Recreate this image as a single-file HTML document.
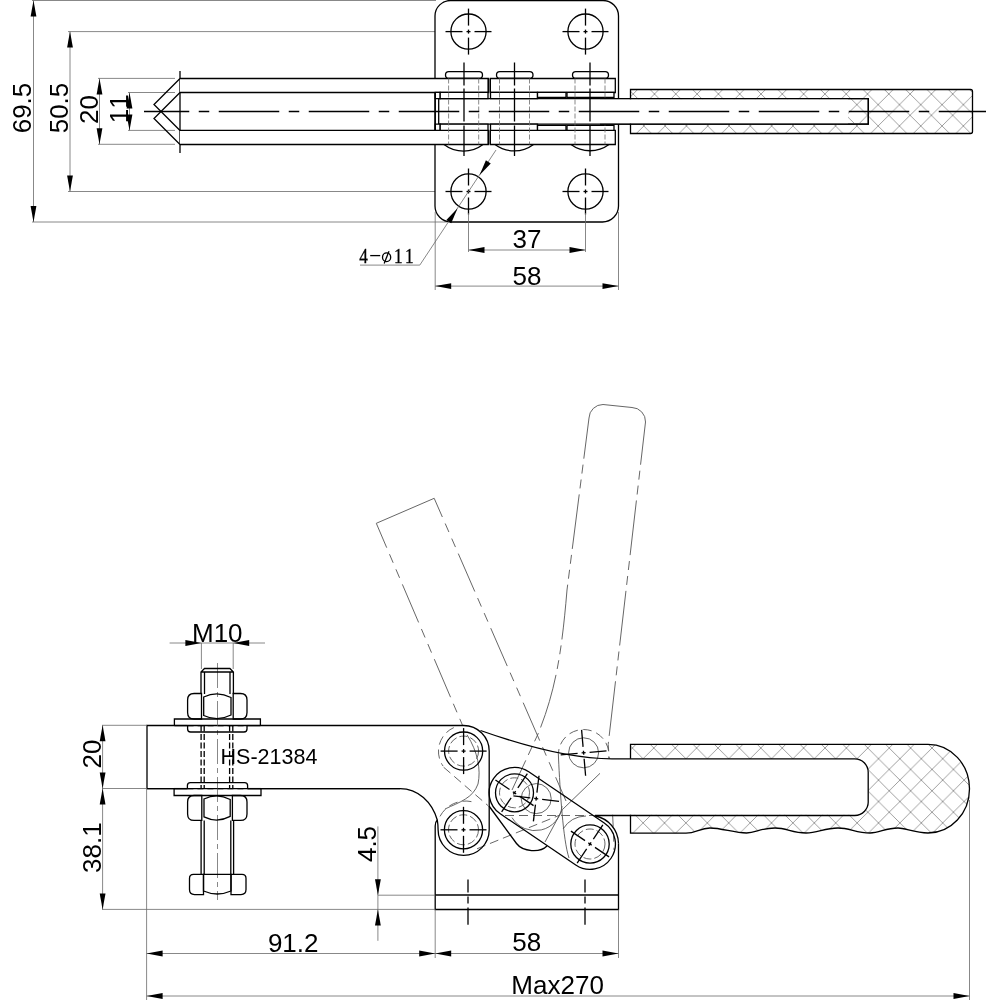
<!DOCTYPE html>
<html><head><meta charset="utf-8"><style>
html,body{margin:0;padding:0;background:#fff;width:1000px;height:1000px;overflow:hidden}
svg{display:block;will-change:transform}
.k{stroke:#000;stroke-width:1.3;fill:none}
.w{fill:#fff}
.t{stroke:#6a6a6a;stroke-width:0.8;fill:none}
.cl{stroke:#000;stroke-width:1.3;fill:none}
.ph{stroke:#555;stroke-width:0.9;fill:none}
.ar{fill:#000;stroke:none}
text{fill:#000;font-kerning:none}
</style></head><body>
<svg width="1000" height="1000" viewBox="0 0 1000 1000">
<line x1="32" y1="0.5" x2="436" y2="0.5" class="t"/>
<line x1="32" y1="222" x2="447" y2="222" class="t"/>
<line x1="33.5" y1="0.5" x2="33.5" y2="222" class="t"/>
<path d="M33.5 0.5L36.4 16.5L30.6 16.5Z" class="ar"/>
<path d="M33.5 222L30.6 206L36.4 206Z" class="ar"/>
<text x="31" y="108" font-size="26" text-anchor="middle" font-family="Liberation Sans" transform="rotate(-90 31 108)">69.5</text>
<line x1="68" y1="31.6" x2="446" y2="31.6" class="t"/>
<line x1="68" y1="191.5" x2="446" y2="191.5" class="t"/>
<line x1="70" y1="31.6" x2="70" y2="191.5" class="t"/>
<path d="M70 31.6L72.9 47.6L67.1 47.6Z" class="ar"/>
<path d="M70 191.5L67.1 175.5L72.9 175.5Z" class="ar"/>
<text x="68" y="108" font-size="26" text-anchor="middle" font-family="Liberation Sans" transform="rotate(-90 68 108)">50.5</text>
<line x1="98" y1="78.4" x2="175" y2="78.4" class="t"/>
<line x1="98" y1="144.3" x2="175" y2="144.3" class="t"/>
<line x1="99.5" y1="78.4" x2="99.5" y2="144.3" class="t"/>
<path d="M99.5 78.4L102.4 94.4L96.6 94.4Z" class="ar"/>
<path d="M99.5 144.3L96.6 128.3L102.4 128.3Z" class="ar"/>
<text x="97.5" y="109.5" font-size="26" text-anchor="middle" font-family="Liberation Sans" transform="rotate(-90 97.5 109.5)">20</text>
<line x1="128" y1="92.5" x2="175" y2="92.5" class="t"/>
<line x1="128" y1="130.4" x2="175" y2="130.4" class="t"/>
<line x1="129.5" y1="92.5" x2="129.5" y2="130.4" class="t"/>
<path d="M129.5 92.5L132.4 108.5L126.6 108.5Z" class="ar"/>
<path d="M129.5 130.4L126.6 114.4L132.4 114.4Z" class="ar"/>
<text x="128" y="108.8" font-size="26" text-anchor="middle" font-family="Liberation Sans" transform="rotate(-90 128 108.8)">11</text>
<line x1="180" y1="71" x2="180" y2="153" class="k"/>
<path d="M180 78.5L154 104.5L180 130.5M180 92.5L154 118.5L180 144.5" class="k"/>
<path d="M451 0.5H603A15.5 15.5 0 0 1 618.5 16V206A16 16 0 0 1 602.5 222H451A16 16 0 0 1 435 206V16A15.5 15.5 0 0 1 451 0.5Z" class="k w"/>
<circle cx="468.5" cy="31.6" r="17.6" class="k"/>
<line x1="474.5" y1="31.6" x2="491.5" y2="31.6" class="k"/>
<line x1="462.5" y1="31.6" x2="445.5" y2="31.6" class="k"/>
<line x1="466.5" y1="31.6" x2="470.5" y2="31.6" class="k"/>
<line x1="468.5" y1="37.6" x2="468.5" y2="54.6" class="k"/>
<line x1="468.5" y1="25.6" x2="468.5" y2="8.6" class="k"/>
<line x1="468.5" y1="29.6" x2="468.5" y2="33.6" class="k"/>
<circle cx="585.5" cy="31.6" r="17.6" class="k"/>
<line x1="591.5" y1="31.6" x2="608.5" y2="31.6" class="k"/>
<line x1="579.5" y1="31.6" x2="562.5" y2="31.6" class="k"/>
<line x1="583.5" y1="31.6" x2="587.5" y2="31.6" class="k"/>
<line x1="585.5" y1="37.6" x2="585.5" y2="54.6" class="k"/>
<line x1="585.5" y1="25.6" x2="585.5" y2="8.6" class="k"/>
<line x1="585.5" y1="29.6" x2="585.5" y2="33.6" class="k"/>
<circle cx="468.5" cy="191.5" r="17.6" class="k"/>
<line x1="474.5" y1="191.5" x2="491.5" y2="191.5" class="k"/>
<line x1="462.5" y1="191.5" x2="445.5" y2="191.5" class="k"/>
<line x1="466.5" y1="191.5" x2="470.5" y2="191.5" class="k"/>
<line x1="468.5" y1="197.5" x2="468.5" y2="214.5" class="k"/>
<line x1="468.5" y1="185.5" x2="468.5" y2="168.5" class="k"/>
<line x1="468.5" y1="189.5" x2="468.5" y2="193.5" class="k"/>
<circle cx="585.5" cy="191.5" r="17.6" class="k"/>
<line x1="591.5" y1="191.5" x2="608.5" y2="191.5" class="k"/>
<line x1="579.5" y1="191.5" x2="562.5" y2="191.5" class="k"/>
<line x1="583.5" y1="191.5" x2="587.5" y2="191.5" class="k"/>
<line x1="585.5" y1="197.5" x2="585.5" y2="214.5" class="k"/>
<line x1="585.5" y1="185.5" x2="585.5" y2="168.5" class="k"/>
<line x1="585.5" y1="189.5" x2="585.5" y2="193.5" class="k"/>
<path d="M180 78.5H488.3V92.5H180" class="k w"/>
<path d="M490.3 78.5H615.3V92.5H490.3Z" class="k w"/>
<line x1="488.3" y1="78.5" x2="488.3" y2="92.5" class="k"/>
<line x1="490.3" y1="78.5" x2="490.3" y2="92.5" class="k"/>
<path d="M180 130.4H488.3V144.5H180" class="k w"/>
<path d="M490.3 130.4H615.3V144.5H490.3Z" class="k w"/>
<line x1="488.3" y1="130.4" x2="488.3" y2="144.5" class="k"/>
<line x1="490.3" y1="130.4" x2="490.3" y2="144.5" class="k"/>
<rect x="445.5" y="71.6" width="37" height="6.6" rx="3.3" class="k w"/>
<path d="M444.0 144.5A32 32 0 0 0 483.0 144.5" class="k"/>
<rect x="496.5" y="71.6" width="36.5" height="6.6" rx="3.3" class="k w"/>
<path d="M495.0 144.5A32 32 0 0 0 533.5 144.5" class="k"/>
<rect x="572.5" y="71.6" width="36" height="6.6" rx="3.3" class="k w"/>
<path d="M571.0 144.5A32 32 0 0 0 609.0 144.5" class="k"/>
<path d="M438.7 98.6H868.3V124.2H438.7Z" class="k w"/>
<path d="M435.25 92.4H440.2V98.6H435.25Z" class="k w"/>
<path d="M435.25 124.2H440.2V130.3H435.25Z" class="k w"/>
<line x1="435.25" y1="92.4" x2="435.25" y2="130.3" class="k"/>
<path d="M440.2 92.4H488V98.6H440.2Z" class="k w"/>
<path d="M440.2 124.2H488V130.3H440.2Z" class="k w"/>
<path d="M490.5 92.4H537.5V98.6H490.5Z" class="k w"/>
<path d="M490.5 124.2H537.5V130.3H490.5Z" class="k w"/>
<path d="M537.5 92.4H566V97.5H537.5Z" class="k w"/>
<path d="M537.5 125.3H566V130.3H537.5Z" class="k w"/>
<path d="M567 92.4H614V97.5H567Z" class="k w"/>
<path d="M567 125.3H614V130.3H567Z" class="k w"/>
<line x1="464" y1="62.5" x2="464" y2="156" class="k" stroke-dasharray="23 3 33 4 40"/>
<line x1="514.5" y1="62.5" x2="514.5" y2="156" class="k" stroke-dasharray="23 3 33 4 40"/>
<line x1="590" y1="62.5" x2="590" y2="156" class="k" stroke-dasharray="23 3 33 4 40"/>
<line x1="448.6" y1="78.5" x2="448.6" y2="144.5" class="t" stroke-dasharray="5 2"/>
<line x1="478.7" y1="78.5" x2="478.7" y2="144.5" class="t" stroke-dasharray="5 2"/>
<line x1="499.5" y1="78.5" x2="499.5" y2="144.5" class="t" stroke-dasharray="5 2"/>
<line x1="529.5" y1="78.5" x2="529.5" y2="144.5" class="t" stroke-dasharray="5 2"/>
<line x1="575" y1="78.5" x2="575" y2="144.5" class="t" stroke-dasharray="5 2"/>
<line x1="605" y1="78.5" x2="605" y2="144.5" class="t" stroke-dasharray="5 2"/>
<defs><pattern id="h1" patternUnits="userSpaceOnUse" width="21.3" height="21.3" x="867.5" y="94"><path d="M0 0L21.3 21.3M21.3 0L0 21.3M-1 20.3L1 22.3M20.3 -1L22.3 1" stroke="#777" stroke-width="0.7"/></pattern><pattern id="h2" patternUnits="userSpaceOnUse" width="21.4" height="21.4" x="653.8" y="748"><path d="M0 0L21.4 21.4M21.4 0L0 21.4" stroke="#777" stroke-width="0.7"/></pattern></defs>
<path d="M630.5 89.5H970.5A2 2 0 0 1 972.5 91.5V131.5A2 2 0 0 1 970.5 133.5H630.5Z" class="k"  style="fill:url(#h1)"/>
<rect x="600" y="99.3" width="248" height="24.2" fill="#fff"/>
<path d="M600 98.6H868.3V124.2H600" class="k"/>
<line x1="144" y1="111.5" x2="986" y2="111.5" class="cl" stroke-dasharray="60.5 9.5 10.5 9.5" stroke-dashoffset="15.25"/>
<line x1="468.5" y1="213" x2="468.5" y2="252" class="t"/>
<line x1="585.5" y1="213" x2="585.5" y2="252" class="t"/>
<line x1="468.5" y1="250" x2="585.5" y2="250" class="t"/>
<path d="M468.5 250L484.5 247.1L484.5 252.9Z" class="ar"/>
<path d="M585.5 250L569.5 252.9L569.5 247.1Z" class="ar"/>
<text x="527" y="248" font-size="26" text-anchor="middle" font-family="Liberation Sans">37</text>
<line x1="435.2" y1="212" x2="435.2" y2="290" class="t"/>
<line x1="618.5" y1="212" x2="618.5" y2="290" class="t"/>
<line x1="435.2" y1="286.1" x2="618.5" y2="286.1" class="t"/>
<path d="M435.2 286.1L451.2 283.2L451.2 289Z" class="ar"/>
<path d="M618.5 286.1L602.5 289L602.5 283.2Z" class="ar"/>
<text x="527" y="284.5" font-size="26" text-anchor="middle" font-family="Liberation Sans">58</text>
<line x1="496" y1="150" x2="419.8" y2="265.1" class="t"/>
<line x1="360" y1="265.1" x2="419.8" y2="265.1" class="t"/>
<path d="M479.5 175.2L485.91 160.26L490.75 163.46Z" class="ar"/>
<path d="M457.6 208.3L451.19 223.24L446.35 220.04Z" class="ar"/>
<g transform="translate(360 262.7) scale(0.8 1)" font-family="Liberation Serif" font-size="21.5" stroke="#000" stroke-width="0.35"><text x="-0.8" y="0">4</text><text x="42.5" y="0">1</text><text x="56.3" y="0">1</text></g>
<line x1="370.2" y1="255.6" x2="380.2" y2="255.6" class="k" stroke-width="1.2"/>
<ellipse cx="386.6" cy="257.3" rx="4.1" ry="4.4" class="k" stroke-width="1.25"/>
<line x1="389" y1="251.2" x2="384.2" y2="263.4" class="k" stroke-width="1.1"/>
<path d="M376.3 523.3L462.4 725" class="ph" stroke-dasharray="41.4 7.1 9.3 7.1 9.3 7.1" stroke-dashoffset="14.9"/>
<path d="M376.3 523.3L434.2 498.3" class="ph"/>
<path d="M434.2 498.3L566 801" class="ph" stroke-dasharray="41.4 7.1 9.3 7.1 9.3 7.1" stroke-dashoffset="21"/>
<path d="M589 418A14 14 0 0 1 603 404.5L632 407.5A14 14 0 0 1 645.5 422" class="ph"/>
<path d="M589 418L567 590C562 650 556 690 538 734L512 790" class="ph" stroke-dasharray="55 6 9 6 9 6" stroke-dashoffset="14"/>
<path d="M645.5 422L608.2 744.4C611 780 613 815 614 850" class="ph" stroke-dasharray="55 6 9 6 9 6" stroke-dashoffset="12"/>
<circle cx="583.6" cy="752.8" r="15" class="ph"/>
<path d="M558.5 758A25.3 25.3 0 1 1 608.7 758" class="ph" stroke-dasharray="9 5"/>
<path d="M558.5 758C560 790 563 840 569 858" class="ph"/>
<circle cx="536.2" cy="798.6" r="15" class="ph"/>
<path d="M512 817.6A27 27 0 0 0 562 806" class="ph"/>
<path d="M453.8 727.6A26 26 0 0 0 443 766" class="ph" stroke-dasharray="9 5"/>
<path d="M443.6 767.2L488 805.6" class="ph" stroke-dasharray="9 5"/>
<path d="M467 734.8C478 752 481 770 478 784C473 798 460 802 445 809" class="ph"/>
<path d="M440 816.4A29 29 0 0 1 473 802" class="ph" stroke-dasharray="9 5"/>
<path d="M607.2 766.4L562.4 809.6L545 842" class="ph"/>
<path d="M563 829A28 28 0 0 1 586 816" class="ph"/>
<path d="M505 815.5H595" class="ph" stroke-dasharray="9 5"/>
<path d="M477 848.8L560 815" class="ph" stroke-dasharray="9 5"/>
<circle cx="463.6" cy="751.1" r="15" class="ph" stroke-dasharray="8 3"/>
<circle cx="463.5" cy="829.8" r="15" class="ph" stroke-dasharray="8 3"/>
<circle cx="590" cy="844" r="15" class="ph" stroke-dasharray="8 3"/>
<circle cx="514.5" cy="792.8" r="15" class="ph" stroke-dasharray="8 3"/>
<path d="M630.5 744.4H928A41.5 44.3 0 0 1 928 833C915 833 905 828 898 828C885 828 880 833 870 833C856 833 850 828 838 828C824 828 818 833 806 833C792 833 787 828 775 828C760 828 756 833 746.5 833C734 833 722 828 710 828C700 828 696 833.2 686 833.2H630.5Z" class="k" style="fill:url(#h2)"/>
<path d="M600 758.8H854.7A13.5 13.5 0 0 1 868.2 772.3V801.2A13.5 13.5 0 0 1 854.7 814.7H600Z" fill="#fff"/>
<path d="M612 758.8H854.7A13.5 13.5 0 0 1 868.2 772.3V801.2A13.5 13.5 0 0 1 854.7 815.5H595" class="k"/>
<path d="M480.5 730.5C530 748 575 758.8 612 758.8" class="k"/>
<path d="M435.2 826V909.5H618.5V843.2" class="k"/>
<path d="M435.2 895H618.5" class="k"/>
<path d="M595.2 816A28.5 28.5 0 0 1 618.5 843.2" class="k"/>
<line x1="468" y1="879.6" x2="468" y2="924.7" class="k" stroke-dasharray="13 4 7 4 20"/>
<line x1="585" y1="879.6" x2="585" y2="924.7" class="k" stroke-dasharray="13 4 7 4 20"/>
<path d="M528.75 771.77L604.25 822.97A25.4 25.4 0 0 1 575.75 865.03L500.25 813.83A25.4 25.4 0 0 1 528.75 771.77Z" class="k"/>
<path d="M489 806L516.5 843.5C523 852 540 853 547 846" class="k"/>
<path d="M147 725.5H463.6A25.6 25.6 0 0 1 489.2 751.1V829.8A25.5 25.5 0 0 1 438.1 829.8Q438.1 825 437.3 820C432 802 418 788.6 400 788.6H147Z" class="k"/>
<path d="M437.3 820Q435.2 822 435.2 826" class="k"/>
<circle cx="463.6" cy="751.1" r="19.1" class="k"/>
<line x1="469.6" y1="751.1" x2="486.6" y2="751.1" class="k"/>
<line x1="457.6" y1="751.1" x2="440.6" y2="751.1" class="k"/>
<line x1="461.6" y1="751.1" x2="465.6" y2="751.1" class="k"/>
<line x1="463.6" y1="757.1" x2="463.6" y2="774.1" class="k"/>
<line x1="463.6" y1="745.1" x2="463.6" y2="728.1" class="k"/>
<line x1="463.6" y1="749.1" x2="463.6" y2="753.1" class="k"/>
<circle cx="463.5" cy="829.8" r="19.1" class="k"/>
<line x1="469.5" y1="829.8" x2="486.5" y2="829.8" class="k"/>
<line x1="457.5" y1="829.8" x2="440.5" y2="829.8" class="k"/>
<line x1="461.5" y1="829.8" x2="465.5" y2="829.8" class="k"/>
<line x1="463.5" y1="835.8" x2="463.5" y2="852.8" class="k"/>
<line x1="463.5" y1="823.8" x2="463.5" y2="806.8" class="k"/>
<line x1="463.5" y1="827.8" x2="463.5" y2="831.8" class="k"/>
<circle cx="514.5" cy="792.8" r="19" class="k"/>
<line x1="519.47" y1="796.16" x2="533.57" y2="805.66" class="k"/>
<line x1="509.53" y1="789.44" x2="495.43" y2="779.94" class="k"/>
<line x1="512.84" y1="791.68" x2="516.16" y2="793.92" class="k"/>
<line x1="511.14" y1="797.77" x2="501.64" y2="811.87" class="k"/>
<line x1="517.86" y1="787.83" x2="527.36" y2="773.73" class="k"/>
<line x1="515.62" y1="791.14" x2="513.38" y2="794.46" class="k"/>
<circle cx="590" cy="844" r="19.2" class="k"/>
<line x1="594.97" y1="847.36" x2="609.07" y2="856.86" class="k"/>
<line x1="585.03" y1="840.64" x2="570.93" y2="831.14" class="k"/>
<line x1="588.34" y1="842.88" x2="591.66" y2="845.12" class="k"/>
<line x1="586.64" y1="848.97" x2="577.14" y2="863.07" class="k"/>
<line x1="593.36" y1="839.03" x2="602.86" y2="824.93" class="k"/>
<line x1="591.12" y1="842.34" x2="588.88" y2="845.66" class="k"/>
<line x1="589.58" y1="752.28" x2="606.51" y2="750.8" class="k"/>
<line x1="577.62" y1="753.32" x2="560.69" y2="754.8" class="k"/>
<line x1="581.61" y1="752.97" x2="585.59" y2="752.63" class="k"/>
<line x1="584.12" y1="758.78" x2="585.6" y2="775.71" class="k"/>
<line x1="583.08" y1="746.82" x2="581.6" y2="729.89" class="k"/>
<line x1="583.43" y1="750.81" x2="583.77" y2="754.79" class="k"/>
<line x1="542.16" y1="799.33" x2="559.03" y2="801.4" class="k"/>
<line x1="530.24" y1="797.87" x2="513.37" y2="795.8" class="k"/>
<line x1="534.21" y1="798.36" x2="538.19" y2="798.84" class="k"/>
<line x1="535.47" y1="804.56" x2="533.4" y2="821.43" class="k"/>
<line x1="536.93" y1="792.64" x2="539" y2="775.77" class="k"/>
<line x1="536.44" y1="796.61" x2="535.96" y2="800.59" class="k"/>
<line x1="217.5" y1="663" x2="217.5" y2="900" class="t" stroke-dasharray="25 4 5 4"/>
<path d="M201 694V672L204.5 668.5H229.9L233.4 672V694M201 672H233.4" class="k"/>
<line x1="204.5" y1="672" x2="204.5" y2="694" class="k" stroke-width="1.2"/>
<line x1="230" y1="672" x2="230" y2="694" class="k" stroke-width="1.2"/>
<path d="M201.5 693.5H194.1Q187.6 693.5 187.6 700.0V712.5Q187.6 719 194.1 719H201.5Z" class="k"/>
<path d="M233.2 693.5H240.5Q247 693.5 247 700.0V712.5Q247 719 240.5 719H233.2Z" class="k"/>
<path d="M203.7 697.0Q217.35 690.5 231.0 697.5V715Q217.35 722 203.7 715.5Z" class="k"/>
<path d="M174.4 725.6V719H260.4V725.6" class="k"/>
<line x1="174.4" y1="725.6" x2="187.6" y2="725.6" class="k"/>
<line x1="247" y1="725.6" x2="260.4" y2="725.6" class="k"/>
<line x1="187.6" y1="725.6" x2="247" y2="725.6" class="k" stroke-dasharray="6 4"/>
<path d="M187.6 725.6V729Q187.6 732 190.6 732H244Q247 732 247 729V725.6" class="k"/>
<line x1="201.1" y1="725.6" x2="201.1" y2="788.6" class="k" stroke-width="1.1" stroke-dasharray="6 2.5"/>
<line x1="204.2" y1="725.6" x2="204.2" y2="788.6" class="k" stroke-width="1.1" stroke-dasharray="6 2.5"/>
<line x1="229.6" y1="725.6" x2="229.6" y2="788.6" class="k" stroke-width="1.1" stroke-dasharray="6 2.5"/>
<line x1="232.8" y1="725.6" x2="232.8" y2="788.6" class="k" stroke-width="1.1" stroke-dasharray="6 2.5"/>
<path d="M187.4 788.6V785.6Q187.4 782.6 190.4 782.6H244.6Q247.6 782.6 247.6 785.6V788.6" class="k"/>
<line x1="187.4" y1="788.6" x2="247.6" y2="788.6" class="k" stroke-dasharray="6 4"/>
<line x1="147" y1="788.6" x2="187.4" y2="788.6" class="k"/>
<line x1="247.6" y1="788.6" x2="400" y2="788.6" class="k"/>
<path d="M174.1 788.6V795.5H261V788.6" class="k"/>
<line x1="174.1" y1="788.6" x2="187.4" y2="788.6" class="k"/>
<line x1="247.6" y1="788.6" x2="261" y2="788.6" class="k"/>
<path d="M201.8 795.5H194.1Q187.6 795.5 187.6 802.0V813.9Q187.6 820.4 194.1 820.4H201.8Z" class="k"/>
<path d="M232.4 795.5H240.5Q247 795.5 247 802.0V813.9Q247 820.4 240.5 820.4H232.4Z" class="k"/>
<path d="M204.0 799.0Q217.1 792.5 230.20000000000002 799.5V816.4Q217.1 823.4 204.0 816.9Z" class="k"/>
<line x1="201.1" y1="820.4" x2="201.1" y2="874.3" class="k" stroke-width="1.1"/>
<line x1="204.2" y1="820.4" x2="204.2" y2="874.3" class="k" stroke-width="1.1"/>
<line x1="230.8" y1="820.4" x2="230.8" y2="874.3" class="k" stroke-width="1.1"/>
<line x1="233.6" y1="820.4" x2="233.6" y2="874.3" class="k" stroke-width="1.1"/>
<path d="M203.5 874.3H193.5Q189.5 874.3 189.5 878.3V889.6Q189.5 894.6 194.5 894.6H203.5Z" class="k"/>
<path d="M231 874.3H242Q246 874.3 246 878.3V889.6Q246 894.6 241 894.6H231Z" class="k"/>
<path d="M203.5 874.3H231V891Q217.3 897 203.5 891Z" class="k"/>
<text x="269" y="764.4" font-size="21.5" text-anchor="middle" font-family="Liberation Sans">HS-21384</text>
<line x1="169.6" y1="643" x2="265" y2="643" class="t"/>
<path d="M201.4 643L185.4 645.9L185.4 640.1Z" class="ar"/>
<path d="M233.2 643L249.2 640.1L249.2 645.9Z" class="ar"/>
<line x1="201.4" y1="643" x2="201.4" y2="669" class="t"/>
<line x1="233.2" y1="643" x2="233.2" y2="669" class="t"/>
<text x="217.3" y="641.5" font-size="26" text-anchor="middle" font-family="Liberation Sans">M10</text>
<line x1="102" y1="725.3" x2="147" y2="725.3" class="t"/>
<line x1="102" y1="788.5" x2="147" y2="788.5" class="t"/>
<line x1="102" y1="909.4" x2="435.2" y2="909.4" class="t"/>
<line x1="102.6" y1="725.3" x2="102.6" y2="909.4" class="t"/>
<path d="M102.6 725.3L105.5 741.3L99.7 741.3Z" class="ar"/>
<path d="M102.6 788.5L99.7 772.5L105.5 772.5Z" class="ar"/>
<path d="M102.6 788.5L105.5 804.5L99.7 804.5Z" class="ar"/>
<path d="M102.6 909.4L99.7 893.4L105.5 893.4Z" class="ar"/>
<text x="101" y="754" font-size="26" text-anchor="middle" font-family="Liberation Sans" transform="rotate(-90 101 754)">20</text>
<text x="101" y="847.6" font-size="26" text-anchor="middle" font-family="Liberation Sans" transform="rotate(-90 101 847.6)">38.1</text>
<line x1="377.9" y1="826.4" x2="377.9" y2="940.8" class="t"/>
<path d="M377.9 895.2L375 879.2L380.8 879.2Z" class="ar"/>
<path d="M377.9 909.6L380.8 925.6L375 925.6Z" class="ar"/>
<line x1="377.9" y1="895.2" x2="435.2" y2="895.2" class="t"/>
<text x="376" y="844" font-size="26" text-anchor="middle" font-family="Liberation Sans" transform="rotate(-90 376 844)">4.5</text>
<line x1="146.6" y1="789" x2="146.6" y2="1000" class="t"/>
<line x1="435.2" y1="909.6" x2="435.2" y2="958" class="t"/>
<line x1="618.5" y1="909.6" x2="618.5" y2="958" class="t"/>
<line x1="969.5" y1="800" x2="969.5" y2="1000" class="t"/>
<line x1="146.6" y1="953.5" x2="618.5" y2="953.5" class="t"/>
<path d="M146.6 953.5L162.6 950.6L162.6 956.4Z" class="ar"/>
<path d="M435.2 953.5L419.2 956.4L419.2 950.6Z" class="ar"/>
<path d="M435.2 953.5L451.2 950.6L451.2 956.4Z" class="ar"/>
<path d="M618.5 953.5L602.5 956.4L602.5 950.6Z" class="ar"/>
<text x="293.2" y="951.8" font-size="26" text-anchor="middle" font-family="Liberation Sans">91.2</text>
<text x="526.7" y="951.3" font-size="26" text-anchor="middle" font-family="Liberation Sans">58</text>
<line x1="146.6" y1="996" x2="969.5" y2="996" class="t"/>
<path d="M146.6 996L162.6 993.1L162.6 998.9Z" class="ar"/>
<path d="M969.5 996L953.5 998.9L953.5 993.1Z" class="ar"/>
<text x="557.6" y="994.3" font-size="26" text-anchor="middle" font-family="Liberation Sans">Max270</text>
</svg></body></html>
